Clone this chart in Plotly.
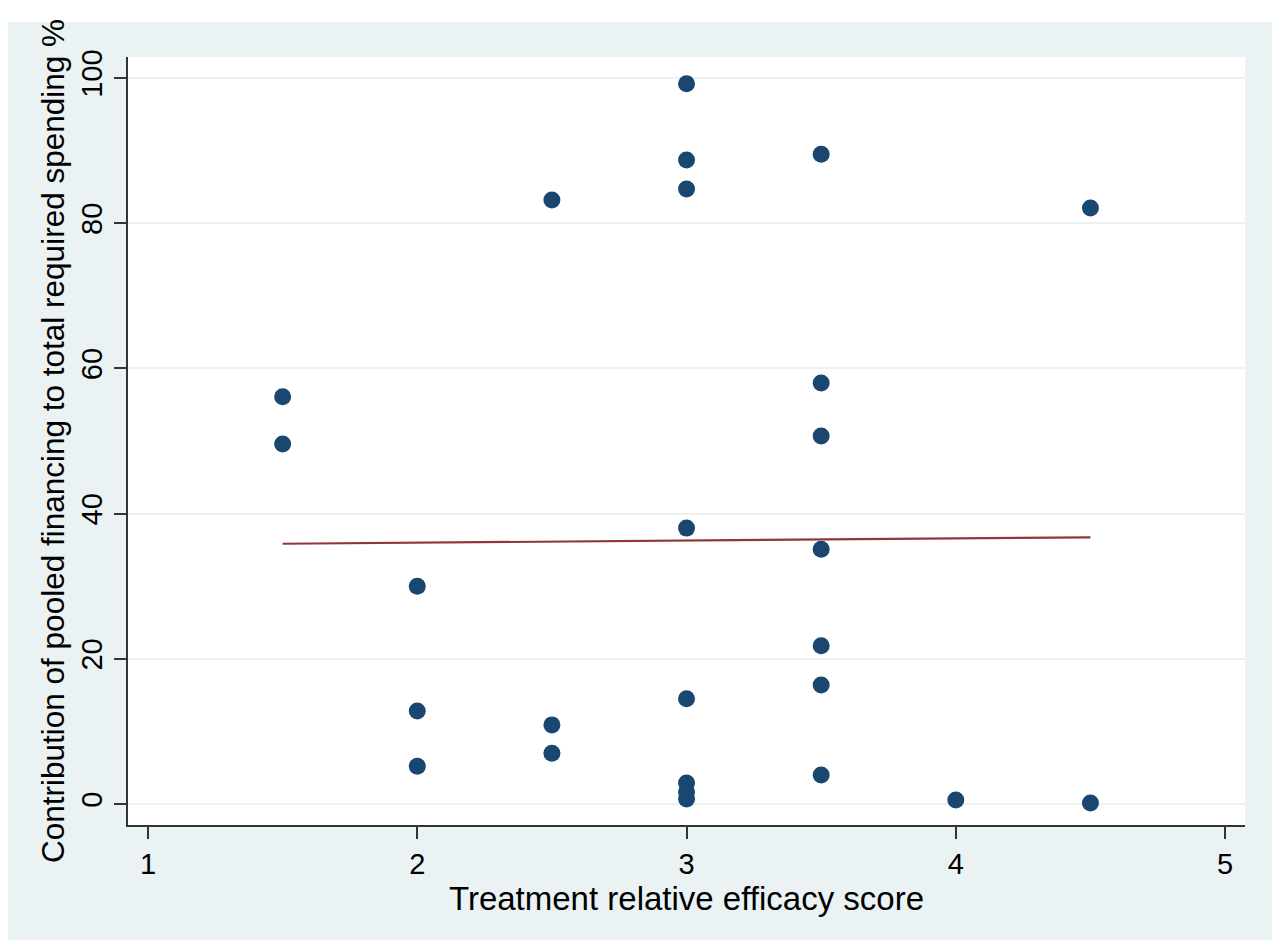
import plotly.graph_objects as go
import numpy as np

# efficacy score of each treatment and its pooled financing share (%)
efficacy_score = [1.5, 1.5,
                  2, 2, 2,
                  2.5, 2.5, 2.5,
                  3, 3, 3, 3, 3, 3, 3, 3,
                  3.5, 3.5, 3.5, 3.5, 3.5, 3.5, 3.5,
                  4,
                  4.5, 4.5]
pooled_share = [56.1, 49.6,
                30.0, 12.8, 5.2,
                83.2, 10.9, 7.0,
                99.2, 88.7, 84.7, 38.0, 14.5, 2.9, 1.7, 0.7,
                89.5, 58.0, 50.7, 35.1, 21.8, 16.4, 4.0,
                0.55,
                82.1, 0.15]

x_ticks = [1, 2, 3, 4, 5]
y_ticks = [0, 20, 40, 60, 80, 100]

# linear fit, drawn over the range of the data
slope, intercept = np.polyfit(efficacy_score, pooled_share, 1)
fit_x = [min(efficacy_score), max(efficacy_score)]
fit_y = [intercept + slope * v for v in fit_x]

BG = "#EAF2F3"
NAVY = "#1A476F"
MAROON = "#90353B"
AXIS = "#333333"

# plot area is 1117 x 768 px; the page puts the figure 8px in from the corner
PW, PH = 1117, 768

fig = go.Figure()
fig.add_trace(go.Scatter(x=efficacy_score, y=pooled_share, mode="markers",
                         marker=dict(color=NAVY, size=17, line=dict(width=0)),
                         showlegend=False))
fig.add_trace(go.Scatter(x=fit_x, y=fit_y, mode="lines",
                         line=dict(color=MAROON, width=2.2),
                         showlegend=False))

fig.update_layout(
    width=1264, height=932,
    margin={"l": 120, "r": 27, "t": 49, "b": 115},
    paper_bgcolor="white",
    plot_bgcolor="white",
    font=dict(family="Liberation Sans, Arial, sans-serif", size=29, color="black"),
    shapes=[
        # stata-like grey graph region, then the white plot region on top
        dict(type="rect", xref="paper", yref="paper", x0=-126 / PW, x1=1 + 33 / PW,
             y0=-120 / PH, y1=1 + 35 / PH, fillcolor=BG, line=dict(width=0), layer="below"),
        dict(type="rect", xref="paper", yref="paper", x0=0, x1=1, y0=0, y1=1,
             fillcolor="white", line=dict(width=0), layer="below"),
    ],
)

fig.update_xaxes(
    range=[0.9257, 5.074], tickvals=x_ticks, ticks="outside", ticklen=12, tickwidth=2,
    tickcolor=AXIS, showline=True, linecolor=AXIS, linewidth=2,
    showgrid=False, zeroline=False,
    title=dict(text="Treatment relative efficacy score", font=dict(size=33), standoff=0),
)
fig.update_yaxes(
    range=[-2.89, 102.89], tickvals=y_ticks, ticks="outside", ticklen=12, tickwidth=2,
    tickcolor=AXIS, showline=True, linecolor=AXIS, linewidth=2,
    tickangle=-90, showgrid=True, gridcolor=BG, gridwidth=2, zeroline=False,
    title=dict(text="Contribution of pooled financing to total required spending %",
               font=dict(size=31.5), standoff=2),
)

fig.write_html("out.html")
